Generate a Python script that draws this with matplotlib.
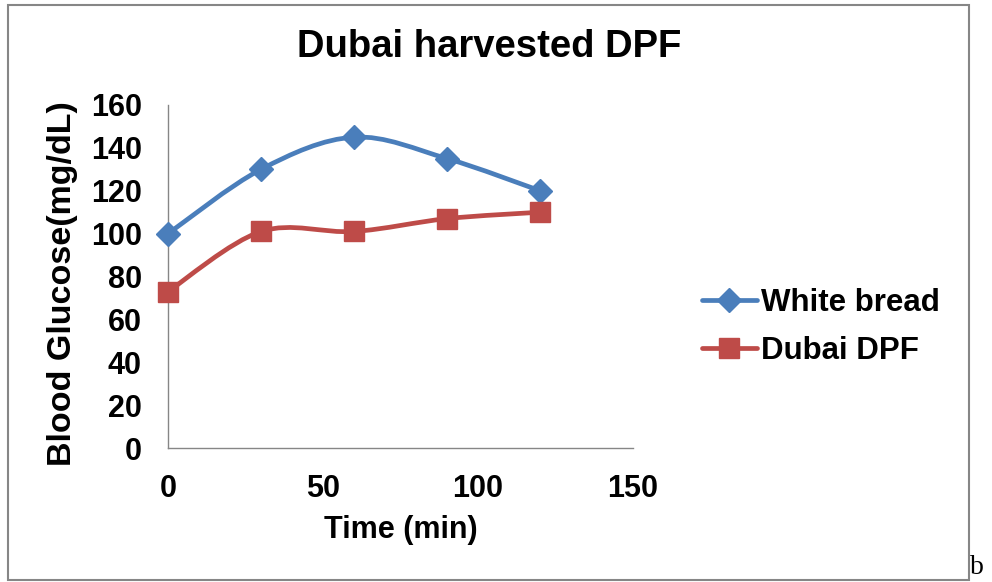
import numpy as np
import matplotlib
matplotlib.use("Agg")
import matplotlib.pyplot as plt
from matplotlib.path import Path
from matplotlib.patches import PathPatch, Rectangle

# data
time_min = [0, 30, 60, 90, 120]
white_bread = [100, 130, 145, 135, 120]
dubai_dpf = [73, 101, 101, 107, 110]

plt.rcParams['font.family'] = ['Liberation Sans', 'DejaVu Sans']
plt.rcParams['font.weight'] = 'bold'


def smooth_path(x, y):
    # Excel-like smoothed line: cubic bezier through each point
    pts = np.column_stack([x, y]).astype(float)
    n = len(pts)
    verts = [pts[0]]
    codes = [Path.MOVETO]
    for i in range(n - 1):
        p0 = pts[max(i - 1, 0)]
        p1 = pts[i]
        p2 = pts[i + 1]
        p3 = pts[min(i + 2, n - 1)]
        c1 = p1 + (p2 - p0) / 6.0
        c2 = p2 - (p3 - p1) / 6.0
        verts += [c1, c2, p2]
        codes += [Path.CURVE4] * 3
    return Path(verts, codes)


fig = plt.figure(figsize=(9.92, 5.82), dpi=100)
ax = fig.add_axes([0.1694, 0.2302, 0.4688, 0.5894])

series = [
    ("White bread", white_bread, "#4A7EBB", "D", 12),
    ("Dubai DPF", dubai_dpf, "#BE4B48", "s", 15),
]
for name, vals, col, mk, ms in series:
    ax.add_patch(PathPatch(smooth_path(time_min, vals), facecolor="none",
                           edgecolor=col, lw=3.4, capstyle="round"))
    ax.plot(time_min, vals, linestyle="none", marker=mk, markersize=ms,
            color=col, markeredgecolor=col, zorder=3, clip_on=False)
    # legend proxy
    ax.plot([], [], color=col, lw=3.4, marker=mk, markersize=ms,
            solid_capstyle="round", label=name)

ax.set_xlim(0, 150)
ax.set_ylim(0, 160)
ax.set_xticks([0, 50, 100, 150])
ax.set_yticks(np.arange(0, 161, 20))
ax.tick_params(axis="x", length=0, labelsize=22, pad=19)
ax.tick_params(axis="y", length=0, labelsize=22, pad=19)
for lab in ax.get_xticklabels() + ax.get_yticklabels():
    lab.set_fontweight("bold")
for s in ["top", "right"]:
    ax.spines[s].set_visible(False)
for s in ["left", "bottom"]:
    ax.spines[s].set_color("#868686")
    ax.spines[s].set_linewidth(1)
ax.set_xlabel("Time (min)", fontsize=22, fontweight="bold")
ax.set_ylabel("Blood Glucose(mg/dL)", fontsize=24.5, fontweight="bold")
ax.xaxis.set_label_coords(0.5, -0.239)
ax.xaxis.label.set_va("center")
ax.yaxis.set_label_coords(-0.226, 0.48)
ax.yaxis.label.set_va("center")

fig.text(0.493, 0.92, "Dubai harvested DPF", ha="center", va="center",
         fontsize=27.5, fontweight="bold")

ax.legend(loc="center left", bbox_to_anchor=(1.1215, 0.353), frameon=False,
          fontsize=22.5, handlelength=1.75, handletextpad=0.15,
          labelspacing=0.6, borderaxespad=0)

# outer chart border
fig.patches.append(Rectangle((8 / 992, 2 / 582), 961 / 992, 575 / 582,
                             transform=fig.transFigure, fill=False,
                             edgecolor="#868686", lw=1.5))
fig.text(0.985, 0.025, "b", ha="center", va="center", fontsize=20,
         family=["Liberation Serif", "DejaVu Serif"], fontweight="normal")

fig.savefig("out.png", dpi=100)
